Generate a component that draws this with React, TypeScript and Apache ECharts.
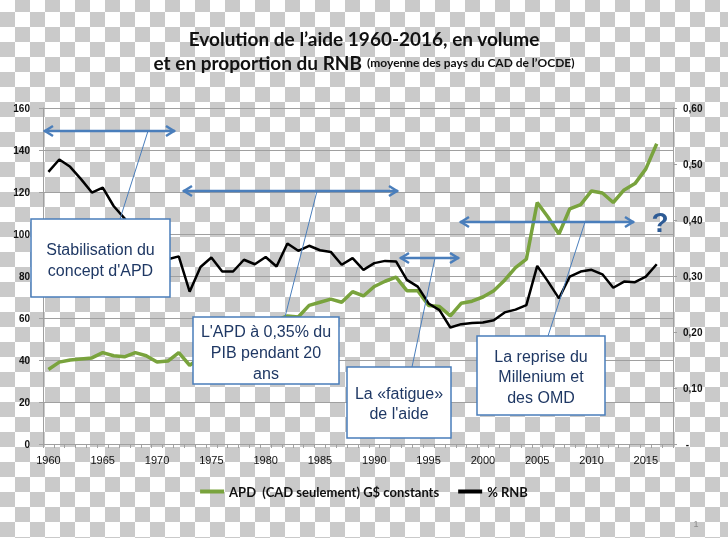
import React, { useEffect, useRef } from "react";
import * as echarts from "echarts";

const years: string[] = [];
for (let y = 1960; y <= 2017; y++) years.push(String(y));

const apd = [
  35.5, 39, 40, 40.5, 41, 43.5, 42, 41.5, 43.5, 42,
  39, 39.5, 43.5, 37.5, 41, 45, 46, 48, 52, 55,
  57, 59, 61, 60.5, 66, 67.5, 69, 67.5, 72.5, 70.5,
  75, 77.5, 79.5, 73, 73, 66, 65.5, 61, 67, 68,
  70, 73, 78, 84, 88, 115, 108, 100, 112, 114,
  120.5, 119.5, 115, 121, 124, 131, 143,
];

const rnb = [
  0.486, 0.508, 0.495, 0.473, 0.449, 0.458, 0.425, 0.403, 0.375, 0.355,
  0.34, 0.33, 0.335, 0.272, 0.316, 0.333, 0.308, 0.308, 0.329, 0.321,
  0.334, 0.317, 0.358, 0.345, 0.354, 0.346, 0.343, 0.32, 0.332, 0.311,
  0.323, 0.327, 0.326, 0.293, 0.281, 0.251, 0.239, 0.208, 0.214, 0.216,
  0.217, 0.221, 0.235, 0.24, 0.248, 0.318, 0.29, 0.26, 0.299, 0.308,
  0.311, 0.303, 0.279, 0.29, 0.289, 0.299, 0.321,
];

const seriesNames = ["APD  (CAD seulement) G$ constants", "% RNB"];

const BLUE = "#4a7ebb";
const NAVY = "#1f3864";

function arrow(x1: number, x2: number, y: number) {
  const w = 2.5;
  return [
    { type: "line", z: 100, shape: { x1, y1: y, x2, y2: y }, style: { stroke: BLUE, lineWidth: w } },
    { type: "polyline", z: 100, shape: { points: [[x1 + 9, y - 5], [x1 + 1, y], [x1 + 9, y + 5]] }, style: { stroke: BLUE, lineWidth: w, fill: null } },
    { type: "polyline", z: 100, shape: { points: [[x2 - 9, y - 5], [x2 - 1, y], [x2 - 9, y + 5]] }, style: { stroke: BLUE, lineWidth: w, fill: null } },
  ];
}

function leader(x1: number, y1: number, x2: number, y2: number) {
  return { type: "line", z: 100, shape: { x1, y1, x2, y2 }, style: { stroke: BLUE, lineWidth: 1 } };
}

function box(x: number, y: number, w: number, h: number, lines: string[], ys: number[]) {
  const els: any[] = [
    { type: "rect", z: 101, shape: { x, y, width: w, height: h }, style: { fill: "#ffffff", stroke: BLUE, lineWidth: 1.5 } },
  ];
  lines.forEach((t, i) => {
    els.push({
      type: "text", z: 102, x: x + w / 2, y: ys[i],
      style: { text: t, fill: NAVY, font: '16px "Liberation Sans", Arial, sans-serif', textAlign: "center", textVerticalAlign: "middle" },
    });
  });
  return els;
}

export default function App() {
  const ref = useRef<HTMLDivElement>(null);
  useEffect(() => {
    if (!ref.current) return;
    const chart = echarts.init(ref.current, undefined, { renderer: "svg" });
    const graphics: any[] = [
      ...arrow(44, 175, 131),
      ...arrow(183, 398, 191),
      ...arrow(400, 459, 258),
      ...arrow(460, 634, 222),
      leader(148, 131, 120, 219),
      leader(317, 191, 285, 317),
      leader(435, 258, 412, 367),
      leader(585, 222, 548, 336),
      ...box(31, 219, 139, 78, ["Stabilisation du", "concept d'APD"], [249, 270]),
      ...box(193, 317, 146, 67, ["L'APD à 0,35% du", "PIB pendant 20", "ans"], [331, 352, 373]),
      ...box(347, 367, 104, 71, ["La «fatigue»", "de l'aide"], [393, 413]),
      ...box(477, 336, 128, 79, ["La reprise du", "Millenium et", "des OMD"], [356, 376, 397]),
      {
        type: "text", z: 102, x: 660, y: 222,
        style: { text: "?", fill: "#2e5b95", font: 'bold 28px "Liberation Sans", Arial, sans-serif', textAlign: "center", textVerticalAlign: "middle" },
      },
      {
        type: "text", z: 102, x: 696, y: 524,
        style: { text: "1", fill: "#8a8a8a", font: '9px "Liberation Sans", Arial, sans-serif', textAlign: "center", textVerticalAlign: "middle" },
      },
    ];
    chart.setOption({
      animation: false,
      backgroundColor: "transparent",
      title: {
        left: "center",
        top: 26,
        padding: 0,
        text: "{a|Evolution de l’aide 1960-2016, en volume}\n{a|et en proportion du RNB} {b|(moyenne des pays du CAD de l’OCDE)}",
        textStyle: {
          rich: {
            a: { fontFamily: "Lato", fontWeight: "bold", fontSize: 19, color: "#111", lineHeight: 24 },
            b: { fontFamily: "Lato", fontWeight: "bold", fontSize: 12, color: "#111", lineHeight: 24 },
          },
        },
      },
      legend: {
        top: 480,
        left: "center",
        itemWidth: 24,
        itemHeight: 4,
        itemGap: 19,
        icon: "rect",
        data: seriesNames,
        textStyle: { fontFamily: "Lato", fontWeight: "bold", fontSize: 13, color: "#111" },
      },
      grid: { left: 43, right: 55, top: 108, bottom: 94 },
      xAxis: {
        type: "category",
        data: years,
        boundaryGap: true,
        axisLine: { lineStyle: { color: "#a0a0a0" } },
        axisTick: { show: true, interval: 0, length: 4, lineStyle: { color: "#a0a0a0" } },
        axisLabel: { interval: 4, margin: 10, fontSize: 11, color: "#111", fontFamily: '"Liberation Sans", Arial, sans-serif' },
      },
      yAxis: [
        {
          type: "value", min: 0, max: 160, interval: 20,
          axisLine: { show: true, lineStyle: { color: "#a0a0a0" } },
          axisTick: { show: true, length: 4, lineStyle: { color: "#a0a0a0" } },
          splitLine: { lineStyle: { color: "#a0a0a0", width: 1 } },
          axisLabel: { margin: 13, fontSize: 10, fontWeight: "bold", color: "#111", fontFamily: '"Liberation Sans", Arial, sans-serif' },
        },
        {
          type: "value", min: 0, max: 0.6, interval: 0.1, position: "right",
          axisLine: { show: true, lineStyle: { color: "#a0a0a0" } },
          axisTick: { show: true, length: 4, lineStyle: { color: "#a0a0a0" } },
          splitLine: { show: false },
          axisLabel: {
            margin: 10, fontSize: 10, fontWeight: "bold", color: "#111", fontFamily: '"Liberation Sans", Arial, sans-serif',
            formatter: (v: number) => (v === 0 ? " -" : v.toFixed(2).replace(".", ",")),
          },
        },
      ],
      series: [
        {
          name: seriesNames[0], type: "line", yAxisIndex: 0, data: apd, showSymbol: false, symbol: "none",
          lineStyle: { color: "#79a33d", width: 3.5 }, itemStyle: { color: "#79a33d" }, z: 3,
        },
        {
          name: seriesNames[1], type: "line", yAxisIndex: 1, data: rnb, showSymbol: false, symbol: "none",
          lineStyle: { color: "#000000", width: 2.5 }, itemStyle: { color: "#000000" }, z: 4,
        },
      ],
      graphic: graphics,
    });
    return () => chart.dispose();
  }, []);
  return (
    <div
      ref={ref}
      style={{
        position: "fixed",
        left: 0,
        top: 0,
        width: 728,
        height: 538,
        backgroundImage: "repeating-conic-gradient(#cacaca 0% 25%, #ffffff 0% 50%)",
        backgroundSize: "30px 30px",
        backgroundPosition: "0px -3px",
      }}
    />
  );
}
